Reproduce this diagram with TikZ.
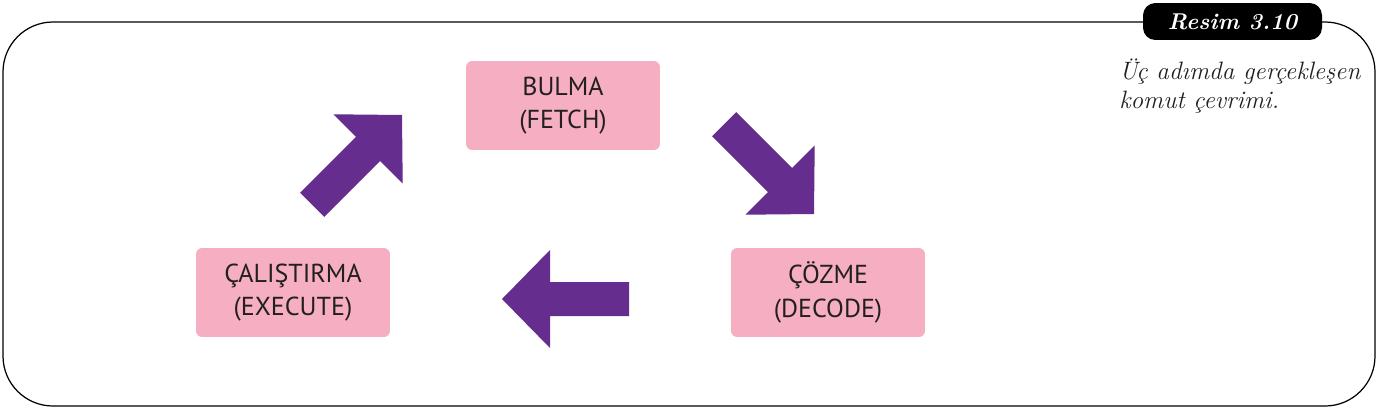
\documentclass[tikz,border=0pt]{standalone}
\usepackage{fontspec}
\newfontfamily\boxfont{PT Sans}
\usetikzlibrary{positioning}

\definecolor{stagepink}{HTML}{F6AFC2}
\definecolor{cyclepurple}{HTML}{652D8E}
\definecolor{inkgray}{HTML}{231F20}

\tikzset{
	% block arrow, tip at the origin, pointing along +x
	bigarrow/.pic={
		\fill[cyclepurple] (0,0) -- (-48,49) -- (-48,17) -- (-127,17)
			-- (-127,-17) -- (-48,-17) -- (-48,-49) -- cycle;
	}
}

\begin{document}
\begin{tikzpicture}[
	x=0.02cm, y=0.02cm,
	stage/.style={fill=stagepink, rounded corners=3.5pt, minimum width=3.88cm, minimum height=1.78cm,
		align=center, text=inkgray, font=\boxfont\fontsize{14.8}{19}\selectfont},
	tag/.style={fill=black, rounded corners=7pt, minimum width=3.58cm, minimum height=0.74cm,
		text=white, font=\bfseries\itshape\fontsize{13}{14}\selectfont},
	]
	\useasboundingbox (0,0) rectangle (1382,410);
	
	% outer frame
	\draw[line width=0.7pt, rounded corners=1cm] (3,4) rectangle (1375,388);
	
	% the three stages
	\node[stage] (fetch) at (563,304.5) {BULMA\\(FETCH)};
	\node[stage] (decode) at (828,117.5) {ÇÖZME\\(DECODE)};
	\node[stage] (execute) at (293,117.5) {ÇALIŞTIRMA\\(EXECUTE)};
	
	% arrows between the stages
	\pic[rotate=-45] (fetchdecode) at (814,196) {bigarrow};
	\pic[rotate=180] (decodeexecute) at (502,111) {bigarrow};
	\pic[rotate=45] (executefetch) at (402,295) {bigarrow};
	
	% caption
	\node[tag] (resim) at (1232.5,388.5) {Resim 3.10};
	\node[anchor=north west, align=left, inner sep=0pt, text=inkgray,
		font=\itshape\fontsize{14.3}{16}\selectfont] (caption) at (1119,351)
		{Üç adımda gerçekleşen\\komut çevrimi.};
	
\end{tikzpicture}
\end{document}
